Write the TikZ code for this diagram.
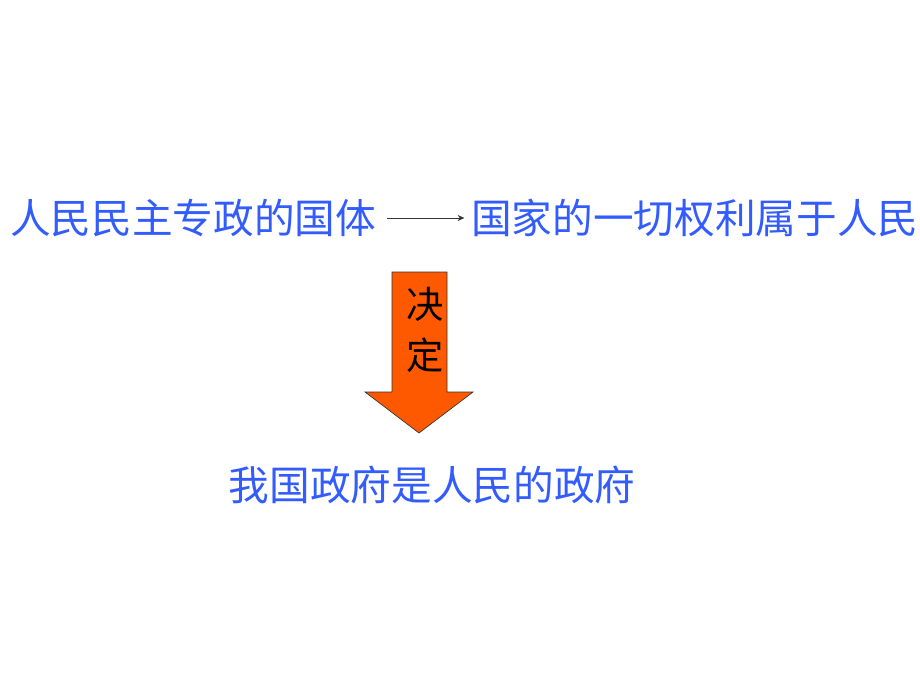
\documentclass[tikz,border=0pt]{standalone}
\usepackage{fontspec}
\newfontfamily\cjk{Noto Sans CJK SC}
\usetikzlibrary{
  arrows.meta,
  positioning
}

\begin{document}
\begin{tikzpicture}[
      x=0.75pt, y=-0.75pt,
      statement/.style={
         inner sep=0pt,
         text=blue!80!cyan!80!white,
         font=\cjk\fontsize{30.5pt}{36pt}\selectfont
      },
      label/.style={
         inner sep=0pt,
         align=center,
         text=black,
         font=\cjk\fontsize{28pt}{38pt}\selectfont
      },
      bigarrow/.style={
         draw=black!80, line width=0.5pt,
         fill=orange!70!red!100
      },
      >={Stealth[length=5pt,width=4.5pt]}, thin, draw=black!80,
      tip/.style={->, shorten <=8pt, shorten >=5pt}
    ]
    \useasboundingbox (0,0) rectangle (920,690);
    % statements
    \node (zhengti) [statement, anchor=west] at (10,218) {人民民主专政的国体};
    \node (quanli)  [statement, anchor=west] at (471,218) {国家的一切权利属于人民};
    \node (zhengfu) [statement] at (432,485) {我国政府是人民的政府};
    \draw[tip] (zhengti) -- (quanli);
    % block arrow
    \coordinate (a1) at (392,272);
    \coordinate (a2) at (447,272);
    \coordinate (a3) at (447,392);
    \coordinate (a4) at (473,392);
    \coordinate (a5) at (419,433);
    \coordinate (a6) at (365,392);
    \coordinate (a7) at (392,392);
    \draw[bigarrow] (a1) -- (a2) -- (a3) -- (a4) -- (a5) -- (a6) -- (a7) -- cycle;
    \node (jueding) [label] at (425,330) {决\\定};
\end{tikzpicture}
\end{document}
